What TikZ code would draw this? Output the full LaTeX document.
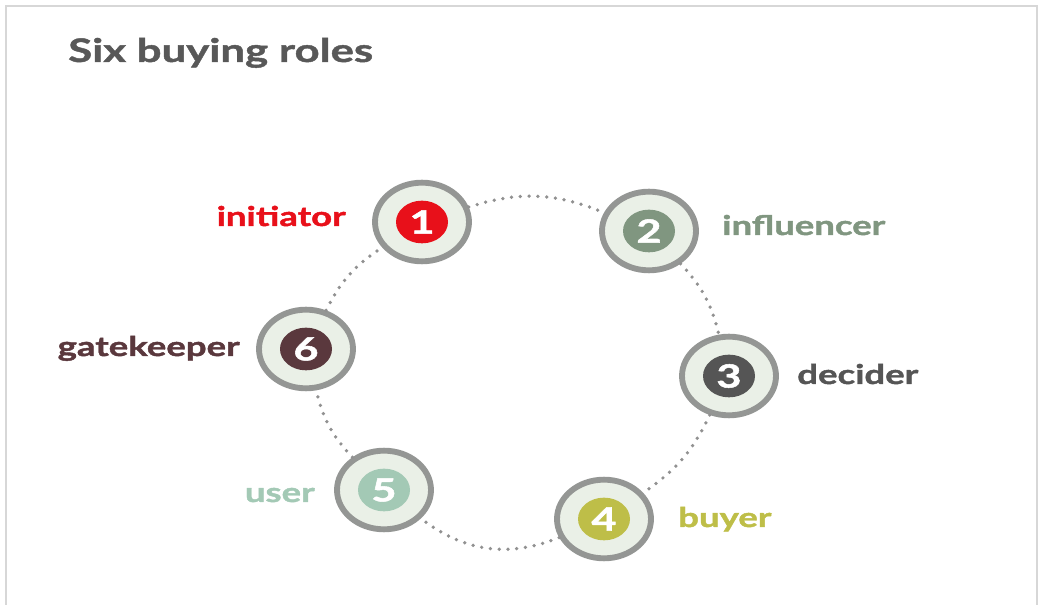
\documentclass[tikz,border=0pt]{standalone}
\usepackage{fontspec}
\newfontfamily\rolefont[FakeStretch=1.35, FakeBold=1.6]{Lato}
\newfontfamily\titlefont[FakeStretch=1.35, FakeBold=1.4]{Lato}
\usetikzlibrary{shapes.geometric}

\definecolor{cinit}{RGB}{232,16,26}
\definecolor{cinfl}{RGB}{128,150,128}
\definecolor{cdeci}{RGB}{85,85,85}
\definecolor{cbuy}{RGB}{190,190,72}
\definecolor{cuser}{RGB}{163,201,181}
\definecolor{cgate}{RGB}{90,56,61}
\definecolor{ringgray}{RGB}{148,150,148}
\definecolor{ringfill}{RGB}{234,240,231}
\definecolor{titlegray}{RGB}{88,88,88}
\definecolor{framegray}{RGB}{215,215,215}
\definecolor{dotgray}{RGB}{145,145,145}

\tikzset{
  role/.style={ellipse, draw=ringgray, line width=4.4pt, fill=ringfill, inner sep=0pt,
    minimum width=70.5pt, minimum height=59pt},
  num/.style={ellipse, inner sep=0pt, minimum width=39pt, minimum height=32pt, text=white,
    font=\rolefont\bfseries\fontsize{24}{24}\selectfont},
  lbl/.style={inner sep=0pt, font=\rolefont\bfseries\fontsize{20.3}{20.3}\selectfont},
  ring/.style={draw=dotgray, line width=2.8pt, line cap=round, dash pattern=on 0pt off 6.6pt},
}

\begin{document}
\begin{tikzpicture}[x=0.75pt, y=-0.75pt]
  \useasboundingbox (0,0) rectangle (1046,605);
  \draw[framegray, line width=1.5pt] (6,605) -- (6,6) -- (1037,6) -- (1037,605);

  \node[anchor=base west, inner sep=0pt, text=titlegray,
    font=\titlefont\bfseries\fontsize{24.3}{24.3}\selectfont] (title) at (68,62) {Six buying roles};

  % the six roles
  \node[role] (r1) at (422,222) {};
  \node[role] (r2) at (649,231) {};
  \node[role] (r3) at (729,376) {};
  \node[role] (r4) at (604,519) {};
  \node[role] (r5) at (384,490) {};
  \node[role] (r6) at (306,349) {};

  \node[num, fill=cinit] (n1) at (r1) {1};
  \node[num, fill=cinfl] (n2) at (r2) {2};
  \node[num, fill=cdeci] (n3) at (r3) {3};
  \node[num, fill=cbuy]  (n4) at (r4) {4};
  \node[num, fill=cuser] (n5) at (r5) {5};
  \node[num, fill=cgate] (n6) at (r6) {6};

  % dotted ring
  \draw[ring] (r1) to[bend left=20] (r2);
  \draw[ring] (r2) to[bend left=15] (r3);
  \draw[ring] (r3) to[bend left=15] (r4);
  \draw[ring] (r4) to[bend left=30] (r5);
  \draw[ring] (r5) to[bend left=15] (r6);
  \draw[ring] (r6) to[bend left=15] (r1);

  \node[lbl, text=cinit, anchor=base east] (initiator) at (346,226) {initiator};
  \node[lbl, text=cinfl, anchor=base west] (influencer) at (722,235) {influencer};
  \node[lbl, text=cdeci, anchor=base west] (decider) at (797,384) {decider};
  \node[lbl, text=cbuy, anchor=base west] (buyer) at (678,527) {buyer};
  \node[lbl, text=cuser, anchor=base east] (user) at (315,502) {user};
  \node[lbl, text=cgate, anchor=base east] (gatekeeper) at (240,356) {gatekeeper};
\end{tikzpicture}
\end{document}
